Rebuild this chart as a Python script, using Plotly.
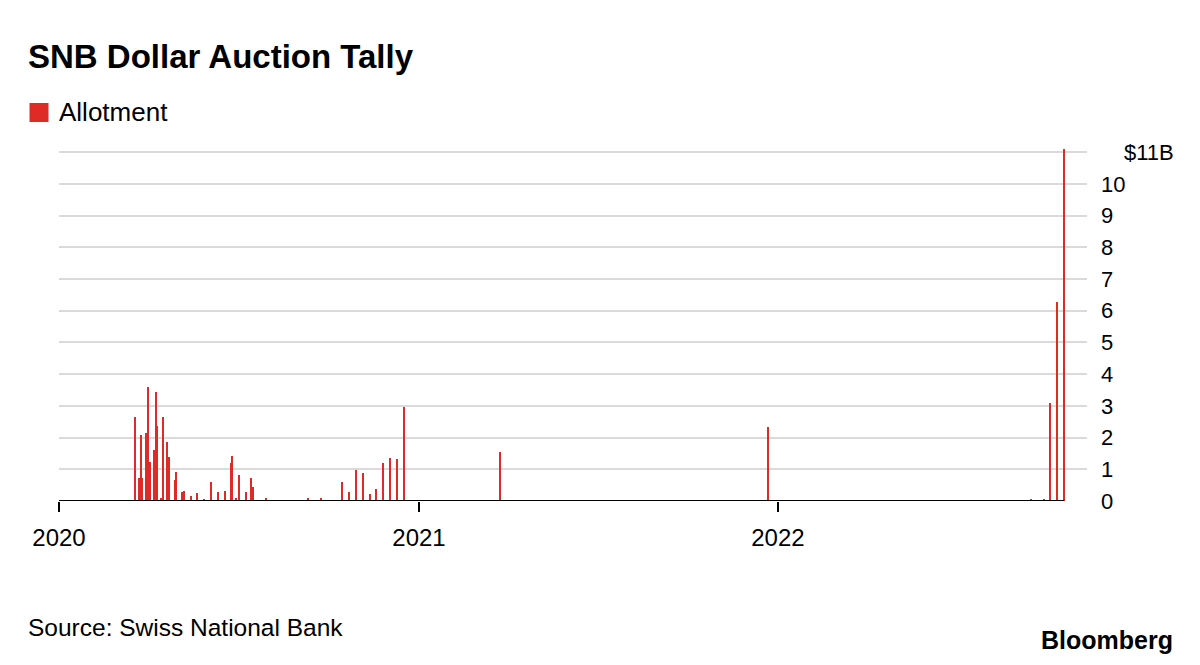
import plotly.graph_objects as go

# ---------------- data ----------------
dates = [
    "2020-03-19", "2020-03-23", "2020-03-24", "2020-03-25", "2020-03-26",
    "2020-03-30", "2020-04-01", "2020-04-03", "2020-04-07", "2020-04-09",
    "2020-04-10", "2020-04-14", "2020-04-16", "2020-04-20", "2020-04-22",
    "2020-04-28", "2020-04-29", "2020-05-05", "2020-05-07", "2020-05-14",
    "2020-05-21", "2020-05-28", "2020-06-04", "2020-06-11", "2020-06-18",
    "2020-06-24", "2020-06-25", "2020-06-29", "2020-07-02", "2020-07-09",
    "2020-07-14", "2020-07-16", "2020-07-30", "2020-09-10", "2020-09-17",
    "2020-09-24", "2020-10-15", "2020-10-22", "2020-10-29", "2020-11-05",
    "2020-11-12", "2020-11-19", "2020-11-26", "2020-12-03", "2020-12-10",
    "2020-12-17", "2021-03-18", "2021-03-25", "2021-07-01", "2021-12-22",
    "2022-03-03", "2022-09-15", "2022-09-29", "2022-10-05", "2022-10-12",
    "2022-10-19",
]
allotment = [
    2.64, 0.72, 0.72, 2.08, 0.72,
    2.16, 3.58, 1.24, 1.60, 3.45,
    2.35, 0.10, 2.64, 1.87, 1.38,
    0.66, 0.93, 0.27, 0.32, 0.16,
    0.26, 0.05, 0.60, 0.27, 0.33,
    1.20, 1.42, 0.08, 0.81, 0.27,
    0.71, 0.43, 0.10, 0.10, 0.03,
    0.08, 0.60, 0.27, 0.99, 0.89,
    0.21, 0.37, 1.21, 1.36, 1.31,
    2.98, 0.02, 1.53, 0.03, 2.34,
    0.02, 0.05, 0.05, 3.10, 6.27,
    11.09,
]
year_ticks = ["2020-01-01", "2021-01-01", "2022-01-01"]
year_labels = ["2020", "2021", "2022"]
y_ticks = list(range(0, 12))
y_labels = [str(v) for v in range(0, 11)] + [""]
unit_label = "$11B"
title = "SNB Dollar Auction Tally"
series_name = "Allotment"
source = "Source: Swiss National Bank"

# ---------------- layout geometry ----------------
W, H = 1200, 665
OFF = 8  # page body margin offset
L, R, T, B = 59 - OFF, 1087 - OFF, 149 - OFF, 501 - OFF
RED = "#df2b25"
FONT = "Liberation Sans, Arial, Helvetica, sans-serif"


def px(x):
    return (x - OFF - L) / (R - L)


def py(y):
    return (B - (y - OFF)) / (B - T)


fig = go.Figure()
fig.add_trace(go.Bar(
    x=dates, y=allotment, name=series_name,
    marker=dict(color=RED, line=dict(width=0)),
    width=1.5 * 86400000, showlegend=False,
))

# black baseline from start of axis to last data point
fig.add_shape(type="line", xref="x", yref="y",
              x0="2020-01-01", x1=dates[-1], y0=0, y1=0,
              line=dict(color="#000000", width=2), layer="above")

# legend swatch
fig.add_shape(type="rect", xref="paper", yref="paper",
              x0=px(29.5), x1=px(48.5), y0=py(122), y1=py(103),
              fillcolor=RED, line=dict(width=0))

annotations = [
    dict(text="<b>%s</b>" % title, x=px(26), y=py(56.5), xanchor="left", yanchor="middle",
         font=dict(size=33, color="#000"), showarrow=False, xref="paper", yref="paper"),
    dict(text=series_name, x=px(57), y=py(112.5), xanchor="left", yanchor="middle",
         font=dict(size=26, color="#000"), showarrow=False, xref="paper", yref="paper"),
    dict(text=unit_label, x=px(1122), y=11, xanchor="left", yanchor="middle",
         font=dict(size=22, color="#000"), showarrow=False, xref="paper", yref="y"),
    dict(text=source, x=px(26), y=py(627.5), xanchor="left", yanchor="middle",
         font=dict(size=24.5, color="#000"), showarrow=False, xref="paper", yref="paper"),
    dict(text="<b>Bloomberg</b>", x=px(1175), y=py(639.5), xanchor="right", yanchor="middle",
         font=dict(size=25, color="#000"), showarrow=False, xref="paper", yref="paper"),
]

fig.update_layout(
    width=W, height=H,
    margin=dict(l=L, r=W - R, t=T, b=H - B, pad=0),
    paper_bgcolor="#ffffff", plot_bgcolor="#ffffff",
    font=dict(family=FONT, color="#000000", size=22),
    bargap=0,
    annotations=annotations,
    showlegend=False,
    xaxis=dict(
        type="date",
        range=["2020-01-01", "2022-11-11 05:00"],
        tickvals=year_ticks, ticktext=year_labels,
        ticks="outside", ticklen=10, tickwidth=2, tickcolor="#000",
        showgrid=False, zeroline=False, showline=False,
        ticklabelstandoff=5,
        tickfont=dict(size=24, color="#000"),
        fixedrange=True,
    ),
    yaxis=dict(
        range=[0, 11.1], side="right",
        tickvals=y_ticks, ticktext=y_labels,
        showgrid=True, gridcolor="#dadada", gridwidth=2,
        zeroline=False, showline=False, ticks="",
        ticklabelstandoff=13,
        tickfont=dict(size=22, color="#000"),
        fixedrange=True,
    ),
)

fig.write_html("out.html")
